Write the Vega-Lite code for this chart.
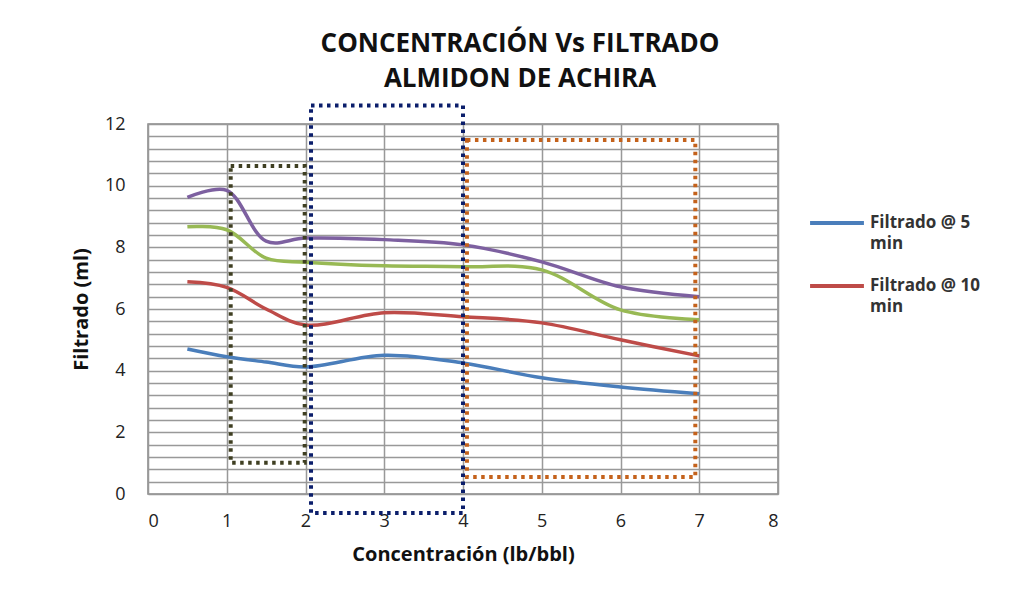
{
  "$schema": "https://vega.github.io/schema/vega-lite/v6.json",
  "width": 630,
  "height": 370,
  "autosize": {"type": "none"},
  "padding": {"left": 148, "top": 124, "right": 248, "bottom": 120},
  "background": "white",
  "title": {
    "text": ["CONCENTRACIÓN Vs FILTRADO", "ALMIDON DE ACHIRA"],
    "anchor": "middle",
    "frame": "group",
    "dx": 57,
    "offset": 12,
    "font": "Open Sans",
    "fontSize": 26,
    "fontWeight": "bold",
    "color": "#111111",
    "lineHeight": 35
  },
  "config": {
    "view": {"stroke": "#888888", "strokeWidth": 1.5},
    "axis": {
      "labelFont": "Open Sans",
      "titleFont": "Open Sans",
      "labelColor": "#222222",
      "titleColor": "#111111",
      "labelFontSize": 18,
      "titleFontSize": 20,
      "titleFontWeight": "bold",
      "domain": false,
      "ticks": false,
      "labelOverlap": false
    }
  },
  "encoding": {
    "x": {
      "field": "c", "type": "quantitative",
      "scale": {"domain": [0, 8], "nice": false},
      "axis": {
        "title": "Concentración (lb/bbl)",
        "values": [0, 1, 2, 3, 4, 5, 6, 7, 8],
        "format": "d",
        "grid": true, "gridColor": "#999999", "gridWidth": 1.5,
        "labelPadding": 18, "titlePadding": 14
      }
    },
    "y": {
      "field": "f", "type": "quantitative",
      "scale": {"domain": [0, 12], "nice": false},
      "axis": {
        "title": "Filtrado (ml)",
        "values": [0, 0.4, 0.8, 1.2, 1.6, 2, 2.4, 2.8, 3.2, 3.6, 4, 4.4, 4.8, 5.2, 5.6, 6, 6.4, 6.8, 7.2, 7.6, 8, 8.4, 8.8, 9.2, 9.6, 10, 10.4, 10.8, 11.2, 11.6, 12],
        "labelExpr": "abs(datum.value - round(datum.value / 2) * 2) < 0.01 ? format(datum.value, 'd') : ''",
        "grid": true, "gridColor": "#999999", "gridWidth": 1.5,
        "labelPadding": 23, "titlePadding": 13
      }
    }
  },
  "layer": [
    {
      "data": {"values": [
        {"serie": "Filtrado @ 5 min", "c": 0.5, "f": 4.7},
        {"serie": "Filtrado @ 5 min", "c": 1, "f": 4.45},
        {"serie": "Filtrado @ 5 min", "c": 1.5, "f": 4.28},
        {"serie": "Filtrado @ 5 min", "c": 2, "f": 4.12},
        {"serie": "Filtrado @ 5 min", "c": 3, "f": 4.5},
        {"serie": "Filtrado @ 5 min", "c": 4, "f": 4.25},
        {"serie": "Filtrado @ 5 min", "c": 5, "f": 3.77},
        {"serie": "Filtrado @ 5 min", "c": 6, "f": 3.47},
        {"serie": "Filtrado @ 5 min", "c": 7, "f": 3.25},
        {"serie": "Filtrado @ 10 min", "c": 0.5, "f": 6.88},
        {"serie": "Filtrado @ 10 min", "c": 1, "f": 6.7},
        {"serie": "Filtrado @ 10 min", "c": 1.5, "f": 6.0},
        {"serie": "Filtrado @ 10 min", "c": 2, "f": 5.48},
        {"serie": "Filtrado @ 10 min", "c": 3, "f": 5.88},
        {"serie": "Filtrado @ 10 min", "c": 4, "f": 5.75},
        {"serie": "Filtrado @ 10 min", "c": 5, "f": 5.55},
        {"serie": "Filtrado @ 10 min", "c": 6, "f": 5.0},
        {"serie": "Filtrado @ 10 min", "c": 7, "f": 4.48},
        {"serie": "Filtrado @ 15 min", "c": 0.5, "f": 8.67},
        {"serie": "Filtrado @ 15 min", "c": 1, "f": 8.57},
        {"serie": "Filtrado @ 15 min", "c": 1.5, "f": 7.65},
        {"serie": "Filtrado @ 15 min", "c": 2, "f": 7.52},
        {"serie": "Filtrado @ 15 min", "c": 3, "f": 7.4},
        {"serie": "Filtrado @ 15 min", "c": 4, "f": 7.37},
        {"serie": "Filtrado @ 15 min", "c": 5, "f": 7.27},
        {"serie": "Filtrado @ 15 min", "c": 6, "f": 5.97},
        {"serie": "Filtrado @ 15 min", "c": 7, "f": 5.65},
        {"serie": "Filtrado @ 30 min", "c": 0.5, "f": 9.62},
        {"serie": "Filtrado @ 30 min", "c": 1, "f": 9.85},
        {"serie": "Filtrado @ 30 min", "c": 1.5, "f": 8.2},
        {"serie": "Filtrado @ 30 min", "c": 2, "f": 8.3},
        {"serie": "Filtrado @ 30 min", "c": 3, "f": 8.25},
        {"serie": "Filtrado @ 30 min", "c": 4, "f": 8.08},
        {"serie": "Filtrado @ 30 min", "c": 5, "f": 7.53},
        {"serie": "Filtrado @ 30 min", "c": 6, "f": 6.72},
        {"serie": "Filtrado @ 30 min", "c": 7, "f": 6.4}
      ]},
      "mark": {"type": "line", "interpolate": "catmull-rom", "strokeWidth": 3.5},
      "encoding": {
        "color": {
          "field": "serie", "type": "nominal",
          "scale": {
            "domain": ["Filtrado @ 5 min", "Filtrado @ 10 min", "Filtrado @ 15 min", "Filtrado @ 30 min"],
            "range": ["#4A7EBB", "#BE4B48", "#98B954", "#7D60A0"]
          },
          "legend": {
            "values": ["Filtrado @ 5 min", "Filtrado @ 10 min"],
            "title": null,
            "orient": "none",
            "legendX": 660,
            "legendY": 70,
            "symbolType": "stroke",
            "symbolSize": 2900,
            "symbolStrokeWidth": 4,
            "labelFont": "Open Sans",
            "labelFontSize": 17,
            "labelFontWeight": "bold",
            "labelColor": "#333333",
            "labelBaseline": "middle",
            "labelOffset": 4,
            "labelExpr": "datum.label == 'Filtrado @ 5 min' ? ['Filtrado @ 5', 'min'] : ['Filtrado @ 10', 'min']",
            "labelLimit": 250,
            "rowPadding": 5,
            "encode": {"labels": {"update": {"lineHeight": {"value": 21}}}}
          }
        }
      }
    },
    {
      "data": {"values": [
        {"box": "a", "c": 1.05, "c2": 1.99, "f": 1.01, "f2": 10.64},
        {"box": "b", "c": 2.07, "c2": 4.0, "f": -0.62, "f2": 12.6},
        {"box": "c", "c": 4.05, "c2": 6.95, "f": 0.55, "f2": 11.48}
      ]},
      "mark": {"type": "rect", "fill": null, "strokeWidth": 4, "strokeDash": [3.5, 4.5], "clip": false},
      "encoding": {
        "x2": {"field": "c2"},
        "y2": {"field": "f2"},
        "stroke": {
          "field": "box", "type": "nominal",
          "scale": {"domain": ["a", "b", "c"], "range": ["#3F3F22", "#0B1E6B", "#C4621C"]},
          "legend": null
        }
      }
    }
  ]
}
